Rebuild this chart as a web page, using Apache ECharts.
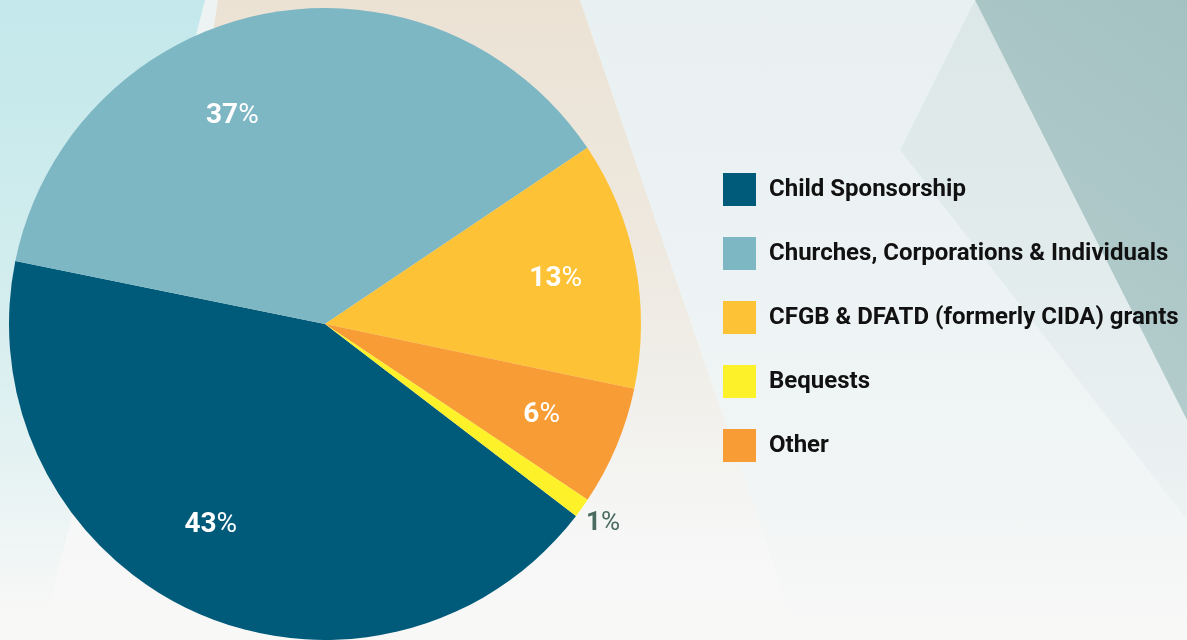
<!DOCTYPE html>
<html>
<head>
<meta charset="utf-8">
<script src="https://cdn.jsdelivr.net/npm/echarts@6/dist/echarts.min.js"></script>
<style>
  html, body { margin: 0; padding: 0; }
  body { width: 1187px; height: 640px; overflow: hidden; position: relative;
         background: linear-gradient(180deg, #edf3f3 0%, #f3f6f6 55%, #f8f8f7 100%); }
  .tri { position: absolute; inset: 0; }
  .t1 { clip-path: polygon(0 0, 205px 0, 40px 640px, 0 640px);
        background: linear-gradient(180deg, #c3e8eb 0%, #d3edee 45%, rgba(240,246,246,0) 95%); }
  .t2 { clip-path: polygon(218px 0, 580px 0, 800px 640px, 120px 640px);
        background: linear-gradient(180deg, #ebe2d4 0%, #eee8de 35%, rgba(246,245,242,0) 85%); }
  .t3 { clip-path: polygon(580px 0, 975px 0, 1187px 420px, 1187px 640px, 800px 640px);
        background: linear-gradient(180deg, #e9f0f1 0%, #edf3f4 45%, rgba(247,248,248,0) 100%); }
  .t4 { clip-path: polygon(975px 0, 1187px 0, 1187px 420px);
        background: linear-gradient(215deg, #a4c2c2 0%, #b6cdce 35%, #d4e1e2 85%); }
  .t5 { clip-path: polygon(975px 0, 1187px 420px, 1187px 520px, 900px 150px);
        background: linear-gradient(180deg, rgba(214,227,228,0.7), rgba(230,238,239,0.2)); }
  #chart { position: absolute; left: 0; top: 0; width: 1187px; height: 640px; }
</style>
</head>
<body>
<div class="tri t1"></div>
<div class="tri t2"></div>
<div class="tri t3"></div>
<div class="tri t5"></div>
<div class="tri t4"></div>
<div id="chart"></div>
<script>
  // slice order clockwise, legend order differs
  const names   = ["Child Sponsorship", "Churches, Corporations & Individuals",
                   "CFGB & DFATD (formerly CIDA) grants", "Other", "Bequests"];
  const values  = [42.8, 37.4, 12.7, 6.1, 1.0];
  const colors  = ["#005a79", "#7db7c4", "#fdc235", "#f89c35", "#fdf12a"];
  const legendOrder = ["Child Sponsorship", "Churches, Corporations & Individuals",
                       "CFGB & DFATD (formerly CIDA) grants", "Bequests", "Other"];

  const CENTER = [325, 324];
  const START = -37.4;

  const chart = echarts.init(document.getElementById("chart"), null, { renderer: "canvas" });

  const data = names.map((n, i) => ({ name: n, value: values[i], itemStyle: { color: colors[i] } }));

  const rich = {
    n: { fontFamily: "Roboto", fontWeight: "bold", fontSize: 28, color: "#fff" },
    p: { fontFamily: "Roboto", fontWeight: "normal", fontSize: 28, color: "#fff" },
    n2: { fontFamily: "Roboto", fontWeight: "bold", fontSize: 26, color: "#4a6b60" },
    p2: { fontFamily: "Roboto", fontWeight: "normal", fontSize: 26, color: "#4a6b60" }
  };

  chart.setOption({
    animation: false,
    legend: {
      orient: "vertical",
      left: 723,
      top: 173,
      padding: 0,
      icon: "rect",
      itemWidth: 33,
      itemHeight: 33,
      itemGap: 31,
      selectedMode: false,
      data: legendOrder,
      textStyle: {
        fontFamily: "Roboto",
        fontWeight: "bold",
        fontSize: 24,
        color: "#111",
        padding: [0, 0, 0, 8]
      }
    },
    series: [
      {
        name: "main",
        type: "pie",
        center: CENTER,
        radius: 316,
        startAngle: START,
        clockwise: true,
        silent: true,
        label: { show: false },
        labelLine: { show: false },
        data: data
      },
      {
        // invisible ring used only to put the inner labels at ~0.73 r
        name: "labels",
        type: "pie",
        center: CENTER,
        radius: 464,
        startAngle: START,
        clockwise: true,
        silent: true,
        itemStyle: { color: "transparent" },
        label: {
          show: true,
          position: "inside",
          formatter: p => p.dataIndex === 4 ? "" : `{n|${Math.round(p.value)}}{p|%}`,
          rich: rich
        },
        labelLayout: p => {
          if (p.dataIndex === 1) return { dx: -47, dy: 23 };
          if (p.dataIndex === 0) return { dx: -17, dy: -13 };
          return {};
        },
        labelLine: { show: false },
        data: names.map((n, i) => ({ name: n, value: values[i] }))
      },
      {
        // outer label for the thin slice
        name: "outer",
        type: "pie",
        center: CENTER,
        radius: 678,
        startAngle: START,
        clockwise: true,
        silent: true,
        itemStyle: { color: "transparent" },
        label: {
          show: true,
          position: "inside",
          formatter: p => p.dataIndex === 4 ? `{n2|${Math.round(p.value)}}{p2|%}` : "",
          rich: rich
        },
        labelLine: { show: false },
        data: names.map((n, i) => ({ name: n, value: values[i] }))
      }
    ]
  });

  window.addEventListener("resize", () => chart.resize());
</script>
</body>
</html>
